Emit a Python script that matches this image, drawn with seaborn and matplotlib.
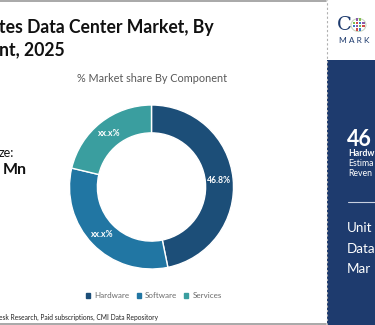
import matplotlib
matplotlib.use("Agg")
import matplotlib.pyplot as plt
import seaborn as sns
from matplotlib.patches import Rectangle, Circle
from matplotlib.lines import Line2D

# ---- data ----
categories = ["Hardware", "Software", "Services"]
shares = [46.8, 31.9, 21.3]
slice_labels = ["46.8%", "xx.x%", "xx.x%"]
colors_hex = ["#1c4e78", "#2176a3", "#3a9e9f"]

sns.set_theme(style="white")
plt.rcParams['font.family'] = ['Lato', 'DejaVu Sans']
palette = sns.color_palette(colors_hex)

W, H = 375, 325
fig = plt.figure(figsize=(W / 100, H / 100), dpi=100)
fig.patch.set_facecolor("white")

def fx(x):
    return x / W

def fy(y):
    return 1 - y / H

# frame lines
fig.add_artist(Line2D([0, fx(326)], [fy(0.5), fy(0.5)], color="#9a9a9a", lw=1.2))
fig.add_artist(Line2D([0, fx(326)], [fy(323.5), fy(323.5)], color="#9a9a9a", lw=1.2))
fig.add_artist(Line2D([fx(326.5), fx(326.5)], [0, 1], color="#b0b0b0", lw=0.8, ls=(0, (2, 2))))

# titles
fig.text(fx(-1), fy(33), "tes Data Center Market, By", fontsize=12.7, fontweight="bold",
         color="#111111", ha="left", va="baseline")
fig.text(fx(-1), fy(55), "nt, 2025", fontsize=12.7, fontweight="bold",
         color="#111111", ha="left", va="baseline")
fig.text(fx(152), fy(79), "% Market share By Component", fontsize=7.8, color="#595959",
         ha="center", va="center")

# left side text
fig.text(fx(-1), fy(153), "ze:", fontsize=9, color="#111111", ha="left", va="center")
fig.text(fx(3), fy(170), "Mn", fontsize=11.5, fontweight="bold", color="#111111",
         ha="left", va="center")

# donut
cx, cy, r = 151.5, 187, 82
ax = fig.add_axes([fx(cx - r), fy(cy + r), 2 * r / W, 2 * r / H])
wedges, texts, autotexts = ax.pie(
    shares, colors=palette, startangle=90, counterclock=False,
    radius=1.0, wedgeprops=dict(width=0.34, edgecolor="white", linewidth=1.0),
    autopct="%1.1f%%", pctdistance=0.83,
)
for t, lab in zip(autotexts, slice_labels):
    t.set_text(lab)
    t.set_color("white")
    t.set_fontsize(6.2)
    t.set_fontweight("bold")
ax.set_xlim(-1, 1)
ax.set_ylim(-1, 1)
ax.set_axis_off()

# legend
handles = [Rectangle((0, 0), 1, 1, color=c) for c in palette]
fig.legend(handles, categories, loc="center", bbox_to_anchor=(fx(154), fy(296)),
           ncol=3, frameon=False, fontsize=5.8, handlelength=0.5, handleheight=0.5,
           handletextpad=0.5, columnspacing=0.9, labelcolor="#6b6b6b")

# source
fig.text(fx(-1), fy(317), "esk Research, Paid subscriptions, CMI Data Repository",
         fontsize=4.8, color="#222222", ha="left", va="center")

# right panel
fig.add_artist(Rectangle((fx(327), 0), 1 - fx(327), fy(60), transform=fig.transFigure,
                         facecolor="#1e3b6e", edgecolor="none"))
fig.text(fx(337), fy(25), "C", fontsize=14, color="#1e3b6e", family="DejaVu Serif",
         ha="left", va="center")
# logo grid icon
fig.add_artist(Circle((fx(358.5), fy(25)), 7.5 / W, transform=fig.transFigure,
                      facecolor="none", edgecolor="#c9d6c0", lw=0.8))
grid_cols = ["#7fbf4d", "#d04a4a", "#3b79c9", "#8a5aa8"]
for i in range(4):
    for j in range(4):
        if (i in (0, 3)) and (j in (0, 3)):
            continue
        col = grid_cols[(i + 2 * j) % 4]
        fig.add_artist(Rectangle((fx(352.5 + i * 3.2), fy(30.5 - j * 3.2)), 2.4 / W, 2.4 / H,
                                 transform=fig.transFigure, facecolor=col, edgecolor="none"))
fig.text(fx(339), fy(40.5), "M A R K", fontsize=6, color="#1e3b6e", ha="left", va="center")

fig.text(fx(347), fy(139), "46", fontsize=15.5, fontweight="bold", color="white",
         ha="left", va="center")
fig.text(fx(348), fy(154), "Hardw", fontsize=6.3, fontweight="bold", color="white",
         ha="left", va="center")
fig.text(fx(348), fy(164), "Estima", fontsize=6.3, color="white", ha="left", va="center")
fig.text(fx(348), fy(174), "Reven", fontsize=6.3, color="white", ha="left", va="center")
fig.add_artist(Line2D([fx(348), 1], [fy(202), fy(202)], color="#c8d0e0", lw=0.8))
fig.text(fx(347), fy(228), "Unit", fontsize=9.6, color="white", ha="left", va="center")
fig.text(fx(347), fy(249), "Data", fontsize=9.6, color="white", ha="left", va="center")
fig.text(fx(347), fy(269), "Mar", fontsize=9.6, color="white", ha="left", va="center")

fig.savefig("out.png", dpi=100, facecolor="white")
